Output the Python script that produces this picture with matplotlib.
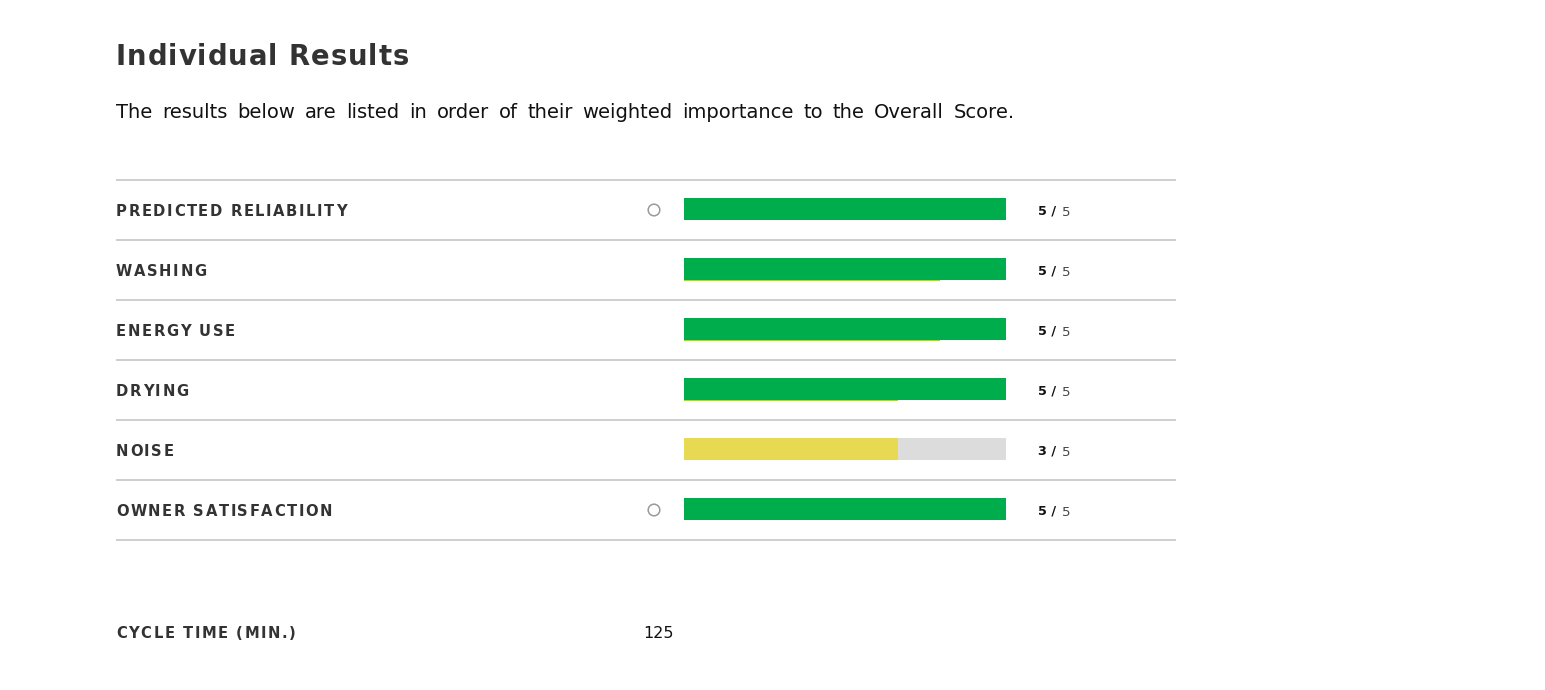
import matplotlib
matplotlib.use("Agg")
import matplotlib.pyplot as plt
from matplotlib.patches import Circle
from matplotlib.font_manager import FontProperties, findfont, get_font

# ---- data ----
categories = ["PREDICTED RELIABILITY", "WASHING", "ENERGY USE", "DRYING", "NOISE", "OWNER SATISFACTION"]
scores = [5, 5, 5, 5, 3, 5]
max_score = 5
bar_fill = [100, 100, 100, 100, 66.5, 100]        # bar fill, percent of track
under_fill = [0, 79.5, 79.5, 66.5, 0, 0]          # thin lighter under-strip, percent
has_circle = [True, False, False, False, False, True]
cycle_label = "CYCLE TIME (MIN.)"
cycle_value = "125"
title = "Individual Results"
subtitle = "The results below are listed in order of their weighted importance to the Overall Score."

W, H, DPI = 1545, 690, 100
fig = plt.figure(figsize=(W / DPI, H / DPI), dpi=DPI)
fig.patch.set_facecolor("white")

# background axes in pixel coordinates (1 unit = 1 px, y downward)
bg = fig.add_axes([0, 0, 1, 1])
bg.set_xlim(0, W)
bg.set_ylim(H, 0)
bg.axis("off")


def char_advances(s, prop):
    font = get_font(findfont(prop))
    font.set_size(prop.get_size_in_points(), DPI)
    out = []
    for c in s:
        g = font.load_char(ord(c))
        out.append(g.linearHoriAdvance / 65536.0)
    return out


def spaced_text(ax, x, y, s, size, color, family="DejaVu Sans", weight="normal",
                spacing=0.0, target=None):
    """letter-spaced text, one glyph per text artist"""
    prop = FontProperties(family=family, weight=weight, size=size)
    adv = char_advances(s, prop)
    if target is not None and len(s) > 1:
        spacing = (target - sum(adv[:-1]) - adv[-1] * 0.9) / (len(s) - 1)
    cx = x
    for c, a in zip(s, adv):
        if c != " ":
            ax.text(cx, y, c, fontproperties=prop, color=color, va="baseline", ha="left")
        cx += a + spacing
    return cx


def word_spaced_text(ax, x, y, s, size, color, target, family="DejaVu Sans", weight="normal"):
    """fit a sentence to a target width by widening the gaps between words"""
    prop = FontProperties(family=family, weight=weight, size=size)
    words = s.split(" ")
    widths = [sum(char_advances(w, prop)) for w in words]
    gap = (target - sum(widths)) / (len(words) - 1)
    cx = x
    for w, wd in zip(words, widths):
        ax.text(cx, y, w, fontproperties=prop, color=color, va="baseline", ha="left")
        cx += wd + gap


dark = "#333333"
spaced_text(bg, 116, 65, title, 19.8, dark, weight="bold", target=291)
word_spaced_text(bg, 116, 118, subtitle, 14.0, "#111111", target=899)

row_top = 180
row_h = 60
n = len(categories)
for i in range(n + 1):
    bg.plot([116, 1176], [row_top + i * row_h] * 2, color="#c6c6c6", lw=1.2,
            solid_capstyle="butt")

for i, cat in enumerate(categories):
    yc = row_top + row_h * (i + 0.5)
    spaced_text(bg, 116, yc + 5.5, cat, 10.6, dark, weight="bold", spacing=1.6)
    if has_circle[i]:
        bg.add_patch(Circle((654, yc), 5.8, fill=False, ec="#9a9a9a", lw=1.1))
    bg.text(1038, yc + 5, f"{scores[i]} /", fontsize=9.3, fontweight="bold",
            color="#111111", family="DejaVu Sans", va="baseline", ha="left")
    bg.text(1062, yc + 6, f"{max_score}", fontsize=9.5, color="#444444",
            family="DejaVu Sans", va="baseline", ha="left")

spaced_text(bg, 116, 637.5, cycle_label, 10.6, dark, weight="bold", spacing=1.6)
bg.text(643, 638, cycle_value, fontsize=11.5, color="#111111", family="DejaVu Sans",
        va="baseline", ha="left")

# bar axes
bx0, bx1 = 684, 1006
ax = fig.add_axes([bx0 / W, 1 - (row_top + n * row_h) / H, (bx1 - bx0) / W, n * row_h / H])
ax.set_xlim(0, 100)
ax.set_ylim(n, 0)
ax.axis("off")
ypos = [i + 0.5 - 1 / row_h for i in range(n)]
bar_h = 22 / row_h
green = "#00ad4d"
yellow = "#e8d952"
track = "#dcdcdc"
ax.barh(ypos, [100] * n, height=bar_h, color=track, lw=0)
colors = [green if s >= 4 else yellow for s in scores]
ax.barh(ypos, bar_fill, height=bar_h, color=colors, lw=0)
strip_h = 1.0 / row_h
ax.barh([y + bar_h / 2 for y in ypos], under_fill, height=strip_h,
        color="#a6d44a", lw=0)

fig.savefig("out.png", dpi=DPI, facecolor="white")
